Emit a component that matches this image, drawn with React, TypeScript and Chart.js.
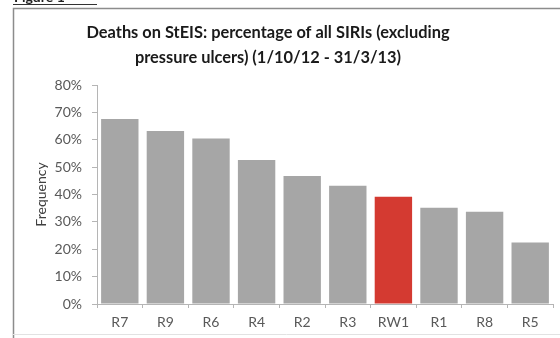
import React, { useEffect, useRef } from "react";
import { Chart, registerables } from "chart.js";

Chart.register(...registerables);

const categories = ["R7", "R9", "R6", "R4", "R2", "R3", "RW1", "R1", "R8", "R5"];
const values = [67.6, 63.2, 60.5, 52.6, 46.8, 43.2, 39.2, 35.2, 33.7, 22.5];
const highlight = "RW1";
const titleLines = [
  "Deaths on StEIS: percentage of all SIRIs (excluding",
  "pressure ulcers) (1/10/12 - 31/3/13)",
];
const yTitle = "Frequency";
const yMax = 80;
const yStep = 10;

const GRAY = "#a6a6a6";
const RED = "#d43a31";
const FONT = "Lato, 'Open Sans', sans-serif";

const framePlugin = {
  id: "frame",
  beforeDraw(chart: any) {
    const ctx = chart.ctx;
    ctx.save();
    ctx.fillStyle = "#ffffff";
    ctx.fillRect(0, 0, chart.width, chart.height);
    // partially visible caption above frame
    ctx.fillStyle = "#222";
    ctx.font = `bold 14px ${FONT}`;
    ctx.textBaseline = "alphabetic";
    ctx.textAlign = "left";
    ctx.fillText("Figure 1", 14, 2);
    ctx.strokeStyle = "#333";
    ctx.lineWidth = 1.2;
    ctx.beginPath();
    ctx.moveTo(13, 4.5);
    ctx.lineTo(97, 4.5);
    ctx.stroke();
    // frame
    ctx.strokeStyle = "#8c8c8c";
    ctx.lineWidth = 1.5;
    ctx.beginPath();
    ctx.moveTo(13.5, 338);
    ctx.lineTo(13.5, 8.5);
    ctx.lineTo(560, 8.5);
    ctx.stroke();
    ctx.strokeStyle = "#e2e2e2";
    ctx.lineWidth = 1;
    ctx.beginPath();
    ctx.moveTo(13, 334.5);
    ctx.lineTo(560, 334.5);
    ctx.stroke();
    // chart title
    ctx.fillStyle = "#1a1a1a";
    ctx.font = `bold 16.4px ${FONT}`;
    ctx.textAlign = "center";
    ctx.textBaseline = "middle";
    ctx.fillText(titleLines[0], 268, 33);
    ctx.fillText(titleLines[1], 268, 58);
    ctx.restore();
  },
};

export default function App() {
  const ref = useRef<HTMLCanvasElement>(null);
  useEffect(() => {
    document.body.style.margin = "0";
    const chart = new Chart(ref.current!, {
      type: "bar",
      data: {
        labels: categories,
        datasets: [
          {
            data: values,
            backgroundColor: categories.map((c) => (c === highlight ? RED : GRAY)),
            borderWidth: 0,
            categoryPercentage: 1,
            barPercentage: 0.82,
          },
        ],
      },
      options: {
        animation: false,
        responsive: false,
        layout: { padding: { top: 85, left: 13, right: 7, bottom: 4 } },
        plugins: {
          legend: { display: false },
          tooltip: { enabled: false },
          title: { display: false },
        },
        scales: {
          x: {
            afterFit(scale: any) {
              scale.height = 30;
            },
            grid: {
              display: true,
              drawOnChartArea: false,
              drawTicks: true,
              tickLength: 4,
              color: "#b5b5b5",
              offset: true,
            },
            border: { display: true, color: "#b5b5b5" },
            ticks: {
              color: "#595959",
              font: { family: FONT, size: 14 },
              padding: 6,
              maxRotation: 0,
            },
          },
          y: {
            min: 0,
            max: yMax,
            afterFit(scale: any) {
              scale.width = 84;
            },
            grid: {
              display: true,
              drawOnChartArea: false,
              drawTicks: true,
              tickLength: 5,
              color: "#b5b5b5",
            },
            border: { display: true, color: "#b5b5b5" },
            ticks: {
              stepSize: yStep,
              color: "#595959",
              font: { family: FONT, size: 14 },
              padding: 10,
              callback: (v: any) => `${v}%`,
            },
            title: {
              display: true,
              text: yTitle,
              color: "#404040",
              font: { family: FONT, size: 14 },
              padding: { top: 20, bottom: 0 },
            },
          },
        },
      },
      plugins: [framePlugin],
    });
    return () => chart.destroy();
  }, []);
  return (
    <div style={{ position: "absolute", left: 0, top: 0, width: 560, height: 338 }}>
      <canvas ref={ref} width={560} height={338} style={{ display: "block" }} />
    </div>
  );
}
